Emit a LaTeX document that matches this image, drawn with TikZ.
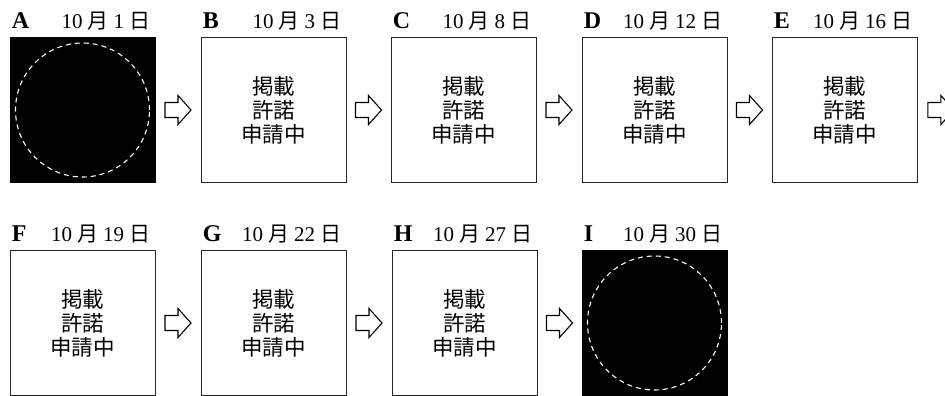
\documentclass[tikz,border=0pt]{standalone}
\usepackage{fontspec}
\setmainfont{Liberation Serif}
\newfontfamily\cjk{Noto Sans CJK JP}
\usetikzlibrary{calc}
\tikzset{
 panel/.style={draw=black!85, line width=0.8pt, minimum width=145pt, minimum height=145pt, inner sep=0pt, fill=white},
 darkpanel/.style={panel, fill=black, draw=black},
 pending/.style={panel, font=\cjk\fontsize{21.5}{24}\selectfont, align=center},
 ring/.style={draw=white, dash pattern=on 5pt off 4pt, line width=1.1pt},
 letterlbl/.style={anchor=base west, font=\bfseries\fontsize{24}{24}\selectfont, inner sep=0pt},
 datelbl/.style={anchor=base east, font=\fontsize{21}{21}\selectfont, inner sep=0pt},
 blockarrow/.style={draw=black, line width=1.1pt, fill=white, line join=miter},
}
\newcommand\datelabel[2]{#1\hspace{5pt}{\cjk 月}\hspace{5pt}#2\hspace{5pt}{\cjk 日}}
\newcommand\pendingtext{掲載\\許諾\\申請中}
\newcommand\hollowarrow[1]{\draw[blockarrow] (#1) ++(-13,-7.5) -- ++(13,0) -- ++(0,-7) -- ++(13,14.5) -- ++(-13,14.5) -- ++(0,-7) -- ++(-13,0) -- cycle;}
\begin{document}
\begin{tikzpicture}[x=1pt,y=-1pt]
\fill[white] (0,0) rectangle (945,396);
\useasboundingbox (0,0) rectangle (945,396);
\clip (0,0) rectangle (945,396);
% row 1
\node[darkpanel] (A) at (82.5,110) {};
\draw[ring] (A.center) circle[radius=67pt];
\node[pending] (B) at (273.5,110) {\pendingtext};
\node[pending] (C) at (463.5,110) {\pendingtext};
\node[pending] (D) at (654.5,110) {\pendingtext};
\node[pending] (E) at (844.5,110) {\pendingtext};
% row 2
\node[pending] (F) at (82.5,323) {\pendingtext};
\node[pending] (G) at (273.5,323) {\pendingtext};
\node[pending] (H) at (464.5,323) {\pendingtext};
\node[darkpanel] (I) at (654.5,323) {};
\draw[ring] (I.center) circle[radius=67pt];
% labels
\foreach \n/\d in {A/1,B/3,C/8,D/12,E/16,F/19,G/22,H/27,I/30}{
  \node[letterlbl] (l\n) at ($(\n.north west)+(2,-9)$) {\n};
  \node[datelbl] (d\n) at ($(\n.north east)+(-5,-9)$) {\datelabel{10}{\d}};
}
% arrows
\coordinate (ab) at ($(A.east)!.5!(B.west)$);
\coordinate (bc) at ($(B.east)!.5!(C.west)$);
\coordinate (cd) at ($(C.east)!.5!(D.west)$);
\coordinate (de) at ($(D.east)!.5!(E.west)$);
\coordinate (ex) at ($(E.east)+(23.5,0)$);
\coordinate (fg) at ($(F.east)!.5!(G.west)$);
\coordinate (gh) at ($(G.east)!.5!(H.west)$);
\coordinate (hi) at ($(H.east)!.5!(I.west)$);
\foreach \c in {ab,bc,cd,de,ex,fg,gh,hi}{\hollowarrow{\c}}
\end{tikzpicture}
\end{document}
